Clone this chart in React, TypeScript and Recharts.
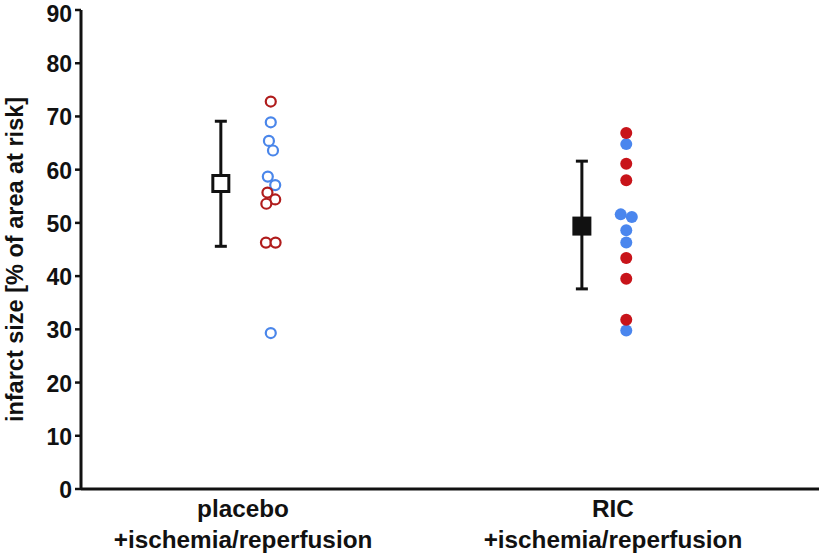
import React from "react"
import { ErrorBar, Scatter, ScatterChart, XAxis, YAxis } from "recharts"

// Infarct size per animal, placebo vs RIC, with group mean ± SD.
const groupLabels = ["placebo", "RIC"]
const groupSubLabel = "+ischemia/reperfusion"
const groupX = [1, 2]
const meanX = [0.94, 1.916]
const dotX = [1.075, 2.036]

const meanValues = [57.4, 49.4]
const sdLow = [11.8, 11.8]
const sdHigh = [11.7, 12.2]

const placeboValues = [72.8, 68.9, 65.4, 63.6, 58.7, 57.1, 55.7, 54.4, 53.6, 46.3, 46.3, 29.3]
const placeboColors = ["r", "b", "b", "b", "b", "b", "r", "r", "r", "r", "r", "b"]
const placeboJitter = [0, 0, -0.005, 0.006, -0.008, 0.012, -0.009, 0.012, -0.012, -0.013, 0.013, 0]

const ricValues = [66.9, 64.8, 61.1, 58.0, 51.6, 51.1, 48.6, 46.3, 43.4, 39.5, 31.8, 29.8]
const ricColors = ["r", "b", "r", "r", "b", "b", "b", "b", "r", "r", "r", "b"]
const ricJitter = [0, 0, 0, 0, -0.015, 0.015, 0, 0, 0, 0, 0, 0]

const yTicks = [0, 10, 20, 30, 40, 50, 60, 70, 80, 90]

const RED_OPEN = "#b01c1c"
const BLUE_OPEN = "#4a86ea"
const RED_FILL = "#c8141a"
const BLUE_FILL = "#4a86ee"

const FONT = "'Liberation Sans', Arial, sans-serif"

function points(values: number[], colors: string[], jitter: number[], x: number, color: string) {
  return values
    .map((y, i) => ({ x: x + jitter[i], y, c: colors[i] }))
    .filter((p) => p.c === color)
}

const meanData = meanValues.map((y, i) => ({
  x: meanX[i],
  y,
  err: [sdLow[i], sdHigh[i]],
  group: i,
}))

const OpenDot = (color: string) => (props: any) => (
  <circle cx={props.cx} cy={props.cy} r={5} fill="#fff" stroke={color} strokeWidth={2.2} />
)

const FilledDot = (color: string) => (props: any) => (
  <circle cx={props.cx} cy={props.cy} r={6} fill={color} />
)

const MeanSquare = (props: any) => {
  const filled = props.payload.group === 1
  const s = filled ? 19 : 16
  return (
    <rect
      x={props.cx - s / 2}
      y={props.cy - s / 2}
      width={s}
      height={s}
      fill={filled ? "#111" : "#fff"}
      stroke="#111"
      strokeWidth={filled ? 0 : 3}
    />
  )
}

const ValueTick = (props: any) => (
  <text
    x={props.x}
    y={props.y}
    dy={props.payload.value === 90 ? 4 : 1}
    textAnchor="end"
    dominantBaseline="central"
    fontFamily={FONT}
    fontWeight="bold"
    fontSize={23}
    fill="#111"
  >
    {props.payload.value}
  </text>
)

const CategoryTick = (props: any) => {
  const i = groupX.indexOf(props.payload.value)
  return (
    <text
      x={props.x}
      y={props.y}
      textAnchor="middle"
      fontFamily={FONT}
      fontWeight="bold"
      fontSize={24.3}
      fill="#111"
    >
      <tspan x={props.x} dy={20}>{groupLabels[i]}</tspan>
      <tspan x={props.x} dy={31}>{groupSubLabel}</tspan>
    </text>
  )
}

const YLabel = (props: any) => {
  const vb = props.viewBox
  const cx = vb.x + 15
  const cy = vb.y + vb.height / 2 + 10
  return (
    <text
      x={cx}
      y={cy}
      transform={`rotate(-90, ${cx}, ${cy})`}
      textAnchor="middle"
      dominantBaseline="central"
      fontFamily={FONT}
      fontWeight="bold"
      fontSize={23.5}
      fill="#111"
    >
      infarct size [% of area at risk]
    </text>
  )
}

export default function App() {
  return (
    <div style={{ position: "absolute", left: 0, top: 0, background: "#fff" }}>
      <ScatterChart width={819} height={555} margin={{ top: 10, right: 0, bottom: 0, left: 0 }}>
        <XAxis
          type="number"
          dataKey="x"
          domain={[0.562, 2.557]}
          ticks={groupX}
          tick={<CategoryTick />}
          tickLine={false}
          axisLine={{ stroke: "#111", strokeWidth: 3 }}
          height={66}
          allowDataOverflow
        />
        <YAxis
          type="number"
          dataKey="y"
          domain={[0, 90]}
          ticks={yTicks}
          width={81}
          tick={<ValueTick />}
          tickLine={{ stroke: "#111", strokeWidth: 2.5 }}
          tickSize={6}
          tickMargin={3}
          axisLine={{ stroke: "#111", strokeWidth: 3 }}
          label={<YLabel />}
          interval={0}
        />
        <Scatter
          data={meanData}
          shape={MeanSquare}
          isAnimationActive={false}
        >
          <ErrorBar dataKey="err" direction="y" width={6} strokeWidth={3} stroke="#111" />
        </Scatter>
        <Scatter data={points(placeboValues, placeboColors, placeboJitter, dotX[0], "b")} shape={OpenDot(BLUE_OPEN)} isAnimationActive={false} />
        <Scatter data={points(placeboValues, placeboColors, placeboJitter, dotX[0], "r")} shape={OpenDot(RED_OPEN)} isAnimationActive={false} />
        <Scatter data={points(ricValues, ricColors, ricJitter, dotX[1], "b")} shape={FilledDot(BLUE_FILL)} isAnimationActive={false} />
        <Scatter data={points(ricValues, ricColors, ricJitter, dotX[1], "r")} shape={FilledDot(RED_FILL)} isAnimationActive={false} />
      </ScatterChart>
    </div>
  )
}
